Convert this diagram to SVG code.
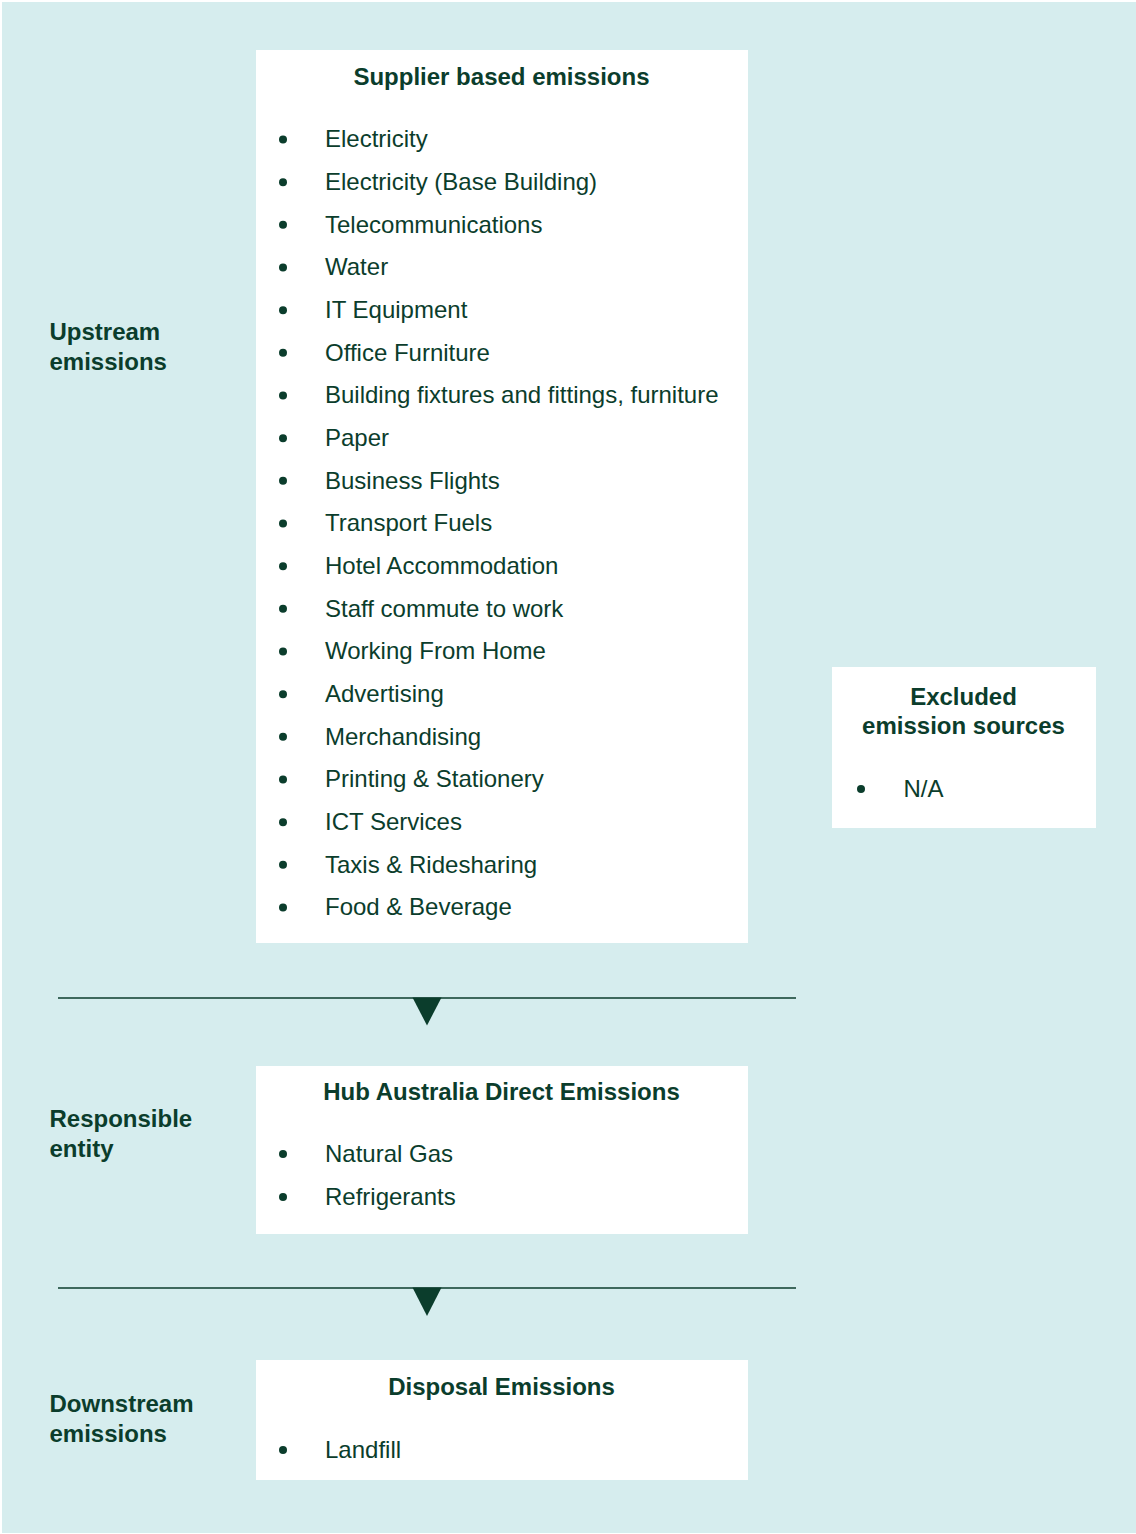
<svg xmlns="http://www.w3.org/2000/svg" width="1136" height="1534" viewBox="0 0 1136 1534">
<style>
.bg{fill:#D6EDEE}
.box{fill:#FFFFFF}
.t{font-family:"Liberation Sans",Arial,sans-serif;font-size:24px;fill:#0B3D2C}
.b{font-weight:bold}
.c{text-anchor:middle}
.dot{fill:#0B3D2C}
.ln{stroke:#0B3D2C;stroke-width:1.5;fill:none}
.tri{fill:#0B3D2C}
</style>
<rect class="bg" x="2" y="2" width="1134" height="1531"/>
<g id="label-upstream">
<text class="t b" x="49.5" y="339.5">Upstream</text>
<text class="t b" x="49.5" y="369.5">emissions</text>
</g>
<g id="label-responsible">
<text class="t b" x="49.5" y="1127">Responsible</text>
<text class="t b" x="49.5" y="1156.5">entity</text>
</g>
<g id="label-downstream">
<text class="t b" x="49.5" y="1412">Downstream</text>
<text class="t b" x="49.5" y="1442">emissions</text>
</g>
<g id="supplier">
<rect class="box" x="256" y="50" width="492" height="893"/>
<text class="t b c" x="501.5" y="85">Supplier based emissions</text>
<g class="dot">
<circle cx="283" cy="139.5" r="4"/><circle cx="283" cy="182.2" r="4"/><circle cx="283" cy="224.8" r="4"/><circle cx="283" cy="267.5" r="4"/><circle cx="283" cy="310.2" r="4"/><circle cx="283" cy="352.8" r="4"/><circle cx="283" cy="395.5" r="4"/><circle cx="283" cy="438.2" r="4"/><circle cx="283" cy="480.8" r="4"/><circle cx="283" cy="523.5" r="4"/><circle cx="283" cy="566.2" r="4"/><circle cx="283" cy="608.8" r="4"/><circle cx="283" cy="651.5" r="4"/><circle cx="283" cy="694.2" r="4"/><circle cx="283" cy="736.8" r="4"/><circle cx="283" cy="779.5" r="4"/><circle cx="283" cy="822.2" r="4"/><circle cx="283" cy="864.8" r="4"/><circle cx="283" cy="907.5" r="4"/>
</g>
<text class="t" x="325" y="147.3">Electricity</text>
<text class="t" x="325" y="190">Electricity (Base Building)</text>
<text class="t" x="325" y="232.6">Telecommunications</text>
<text class="t" x="325" y="275.3">Water</text>
<text class="t" x="325" y="318">IT Equipment</text>
<text class="t" x="325" y="360.6">Office Furniture</text>
<text class="t" x="325" y="403.3">Building fixtures and fittings, furniture</text>
<text class="t" x="325" y="446">Paper</text>
<text class="t" x="325" y="488.6">Business Flights</text>
<text class="t" x="325" y="531.3">Transport Fuels</text>
<text class="t" x="325" y="574">Hotel Accommodation</text>
<text class="t" x="325" y="616.6">Staff commute to work</text>
<text class="t" x="325" y="659.3">Working From Home</text>
<text class="t" x="325" y="702">Advertising</text>
<text class="t" x="325" y="744.6">Merchandising</text>
<text class="t" x="325" y="787.3">Printing &amp; Stationery</text>
<text class="t" x="325" y="830">ICT Services</text>
<text class="t" x="325" y="872.6">Taxis &amp; Ridesharing</text>
<text class="t" x="325" y="915.3">Food &amp; Beverage</text>
</g>
<g id="excluded">
<rect class="box" x="832" y="667" width="264" height="161"/>
<text class="t b c" x="963.5" y="705">Excluded</text>
<text class="t b c" x="963.5" y="733.5">emission sources</text>
<circle class="dot" cx="861" cy="789" r="4"/>
<text class="t" x="903.5" y="797">N/A</text>
</g>
<g id="hub">
<rect class="box" x="256" y="1066" width="492" height="168"/>
<text class="t b c" x="501.5" y="1100">Hub Australia Direct Emissions</text>
<circle class="dot" cx="283" cy="1154" r="4"/>
<text class="t" x="325" y="1162">Natural Gas</text>
<circle class="dot" cx="283" cy="1197" r="4"/>
<text class="t" x="325" y="1205">Refrigerants</text>
</g>
<g id="disposal">
<rect class="box" x="256" y="1360" width="492" height="120"/>
<text class="t b c" x="501.5" y="1395">Disposal Emissions</text>
<circle class="dot" cx="283" cy="1450" r="4"/>
<text class="t" x="325" y="1458">Landfill</text>
</g>
<g id="connectors">
<line class="ln" x1="58" y1="998" x2="796" y2="998"/>
<polygon class="tri" points="412.5,997.5 441.5,997.5 427,1025.5"/>
<line class="ln" x1="58" y1="1288" x2="796" y2="1288"/>
<polygon class="tri" points="412.5,1287.5 441.5,1287.5 427,1316"/>
</g>
</svg>
